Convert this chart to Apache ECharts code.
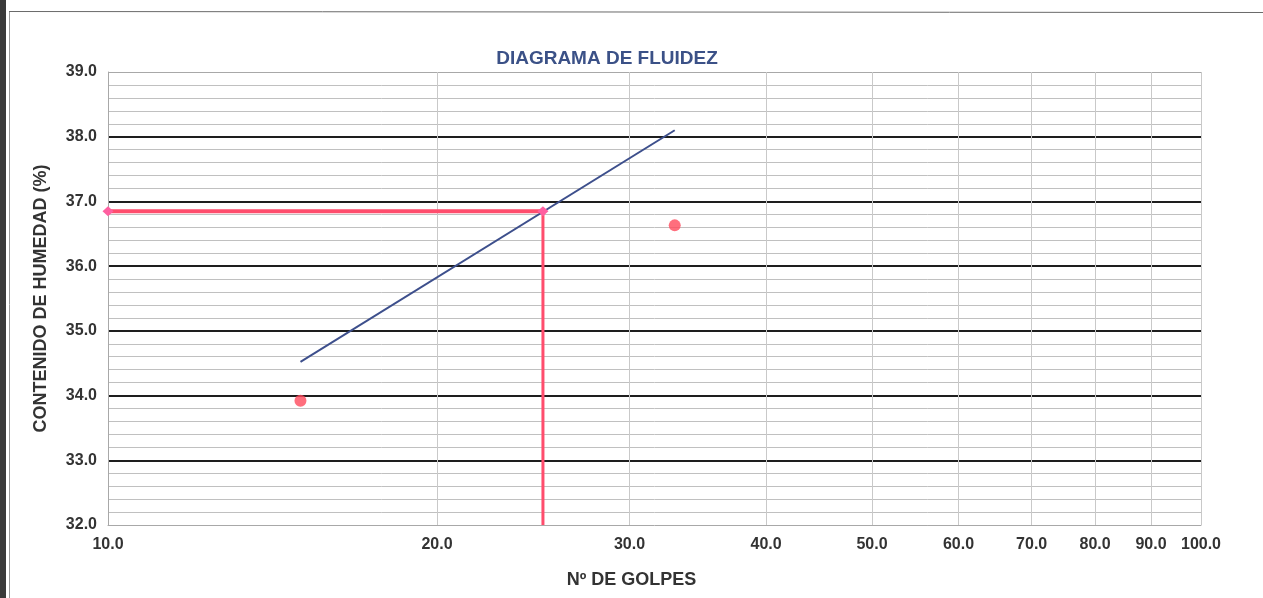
<!DOCTYPE html>
<html>
<head>
<meta charset="utf-8">
<script src="https://cdn.jsdelivr.net/npm/echarts@6/dist/echarts.min.js"></script>
<style>
  html, body { margin: 0; padding: 0; background: #ffffff; }
  #chart { width: 1263px; height: 598px; }
</style>
</head>
<body>
<div id="chart"></div>
<script>
// Ensayo de límite líquido: puntos medidos, recta de fluidez y lectura a 25 golpes
const golpes = [15, 33];
const humedad = [33.92, 36.63];
const rectaGolpes = [15, 33];
const rectaHumedad = [34.52, 38.10];
const golpesLL = 25;
const limiteLiquido = 36.85;
const xTicks = [10, 20, 30, 40, 50, 60, 70, 80, 90, 100];
const yMin = 32, yMax = 39;

const labelFont = { fontFamily: 'Liberation Sans, Arial, sans-serif', fontWeight: 'bold', color: '#333333' };
const mayor = '#1e1e1e';
const borde = 'rgba(0,0,0,0)';

const chart = echarts.init(document.getElementById('chart'));
chart.setOption({
  backgroundColor: '#ffffff',
  animation: false,
  title: {
    text: 'DIAGRAMA DE FLUIDEZ',
    left: 602, top: 44, textAlign: 'center',
    textStyle: { fontFamily: 'Liberation Sans, Arial, sans-serif', fontWeight: 'bold', fontSize: 19, color: '#3b5187' }
  },
  grid: { left: 108, right: 62, top: 72, bottom: 73 },
  xAxis: {
    type: 'log', logBase: 10, min: 10, max: 100,
    name: 'Nº DE GOLPES', nameLocation: 'middle', nameGap: 46,
    nameTextStyle: Object.assign({ fontSize: 18, padding: [0, 46, 0, 0] }, labelFont),
    axisLine: { show: true, lineStyle: { color: '#a8a8a8', width: 1 } },
    axisTick: { show: false, customValues: xTicks },
    axisLabel: {
      customValues: xTicks, margin: 12, fontSize: 16, ...labelFont,
      formatter: v => Number(v).toFixed(1)
    },
    splitLine: { show: true, lineStyle: { color: '#c9c9c9', width: 1 } }
  },
  yAxis: {
    type: 'value', min: yMin, max: yMax, interval: 1,
    name: 'CONTENIDO DE HUMEDAD (%)', nameLocation: 'middle', nameGap: 58,
    nameTextStyle: Object.assign({ fontSize: 18 }, labelFont),
    axisLine: { show: true, lineStyle: { color: '#a8a8a8', width: 1 } },
    axisTick: { show: false },
    axisLabel: { margin: 11, fontSize: 16, ...labelFont, formatter: v => v.toFixed(1) },
    splitLine: { show: true, lineStyle: { color: [borde, mayor, mayor, mayor, mayor, mayor, mayor, borde], width: 2 } },
    minorTick: { show: false, splitNumber: 5 },
    minorSplitLine: { show: true, lineStyle: { color: '#c0c0c0', width: 1 } }
  },
  graphic: [
    { type: 'rect', shape: { x: 0, y: 0, width: 6, height: 598 }, style: { fill: '#3a3a3a' } },
    { type: 'line', shape: { x1: 9.5, y1: 11, x2: 9.5, y2: 598 }, style: { stroke: '#9a9a9a', lineWidth: 1 } },
    { type: 'line', shape: { x1: 9, y1: 11.5, x2: 1263, y2: 12.5 }, style: { stroke: '#6a6a6a', lineWidth: 1 } },
    { type: 'rect', shape: { x: 1201, y: 72, width: 1, height: 453 }, style: { fill: '#a8a8a8' } },
    { type: 'rect', shape: { x: 108, y: 72, width: 1093, height: 1 }, style: { fill: '#a8a8a8' } }
  ],
  series: [
    {
      name: 'Recta de fluidez', type: 'line',
      data: rectaGolpes.map((g, i) => [g, rectaHumedad[i]]),
      showSymbol: false, symbol: 'none',
      lineStyle: { color: '#3d4f8c', width: 2 }, z: 3
    },
    {
      name: 'Lectura horizontal', type: 'line',
      data: [[10, limiteLiquido], [golpesLL, limiteLiquido]],
      symbol: 'diamond', symbolSize: [11, 10],
      itemStyle: { color: '#ff5fa0' },
      lineStyle: { color: '#ff4d6d', width: 4 }, z: 4
    },
    {
      name: 'Lectura vertical', type: 'line',
      data: [[golpesLL, limiteLiquido], [golpesLL, yMin]],
      symbol: 'none',
      lineStyle: { color: '#ff4d6d', width: 3 }, z: 4
    },
    {
      name: 'Ensayos', type: 'scatter',
      data: golpes.map((g, i) => [g, humedad[i]]),
      symbol: 'circle', symbolSize: 12,
      itemStyle: { color: '#ff4a5c' }, z: 5
    }
  ]
});
</script>
</body>
</html>
